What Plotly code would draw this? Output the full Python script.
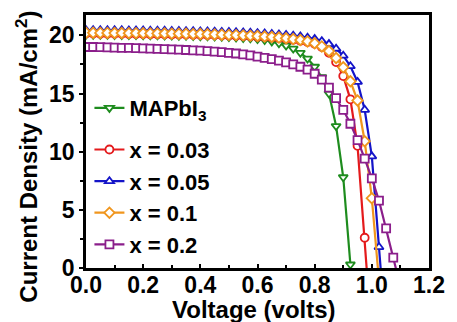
import plotly.graph_objects as go

VOLTAGE = [0.0, 0.025, 0.05, 0.075, 0.1, 0.125, 0.15, 0.175, 0.2, 0.225,
           0.25, 0.275, 0.3, 0.325, 0.35, 0.375, 0.4, 0.425, 0.45, 0.475,
           0.5, 0.525, 0.55, 0.575, 0.6, 0.625, 0.65, 0.675, 0.7, 0.725,
           0.75, 0.775, 0.8, 0.825, 0.85, 0.875, 0.9, 0.925, 0.95, 0.975,
           1.0, 1.025, 1.05, 1.075, 1.1]

J_MAPBI3 = [20.05, 20.05, 20.04, 20.04, 20.03, 20.03, 20.02, 20.02, 20.01, 20.0,
            20.0, 19.99, 19.98, 19.97, 19.96, 19.95, 19.93, 19.92, 19.9, 19.88,
            19.85, 19.82, 19.78, 19.74, 19.68, 19.6, 19.48, 19.32, 19.12, 18.86,
            18.5, 18.0, 17.3, 16.4, 15.0, 12.2, 7.8, 0.3, -7.0]
J_X003 = [20.15, 20.15, 20.14, 20.14, 20.13, 20.13, 20.12, 20.12, 20.11, 20.1,
          20.1, 20.09, 20.08, 20.07, 20.06, 20.05, 20.04, 20.03, 20.02, 20.0,
          19.98, 19.96, 19.94, 19.91, 19.88, 19.85, 19.81, 19.76, 19.7, 19.62,
          19.53, 19.42, 19.28, 19.0, 18.5, 17.7, 16.5, 14.5, 10.5, 2.6, -6.0]
J_X005 = [20.45, 20.45, 20.44, 20.44, 20.43, 20.43, 20.42, 20.42, 20.41, 20.4,
          20.4, 20.39, 20.38, 20.37, 20.36, 20.35, 20.34, 20.33, 20.32, 20.3,
          20.28, 20.26, 20.24, 20.22, 20.19, 20.16, 20.12, 20.08, 20.03, 19.97,
          19.9, 19.8, 19.68, 19.5, 19.25, 18.85, 18.25, 17.35, 16.0, 13.6,
          9.6, 1.8, -6.0]
J_X01 = [20.22, 20.22, 20.21, 20.21, 20.2, 20.2, 20.19, 20.19, 20.18, 20.17,
         20.17, 20.16, 20.15, 20.14, 20.13, 20.12, 20.11, 20.1, 20.08, 20.06,
         20.04, 20.02, 20.0, 19.97, 19.94, 19.9, 19.86, 19.81, 19.75, 19.68,
         19.6, 19.48, 19.32, 19.05, 18.65, 18.05, 17.25, 16.05, 14.4, 10.9,
         6.0, -1.1]
J_X02 = [19.0, 19.0, 18.98, 18.96, 18.95, 18.93, 18.92, 18.9, 18.88, 18.86,
         18.84, 18.82, 18.8, 18.77, 18.74, 18.71, 18.68, 18.64, 18.6, 18.56,
         18.5, 18.44, 18.37, 18.28, 18.18, 18.07, 17.95, 17.82, 17.67, 17.5,
         17.3, 17.05, 16.7, 16.2, 15.5, 14.6, 13.6, 12.4, 11.0, 9.4,
         7.7, 5.8, 3.4, 0.9, -1.6]

SERIES = [
    ("MAPbI<sub>3</sub>", J_MAPBI3, "#1E8C1E", "triangle-down", "g1"),
    ("x = 0.03", J_X003, "#E41A1C", "circle", "g2"),
    ("x = 0.05", J_X005, "#1414C8", "triangle-up", "g2"),
    ("x = 0.1", J_X01, "#F0961E", "diamond", "g2"),
    ("x = 0.2", J_X02, "#8B1E8B", "square", "g2"),
]

X_TICKS = [0.0, 0.2, 0.4, 0.6, 0.8, 1.0, 1.2]
Y_TICKS = [0, 5, 10, 15, 20]
X_TITLE = "Voltage (volts)"
Y_TITLE = "Current Density (mA/cm<sup>2</sup>)"

FONT = "Liberation Sans, Arial, sans-serif"
FS = 23

fig = go.Figure()
for name, vals, color, sym, grp in SERIES:
    fig.add_trace(go.Scatter(
        x=VOLTAGE[:len(vals)], y=vals, name=name, mode="lines+markers",
        legendgroup=grp,
        line=dict(color=color, width=2.2),
        marker=dict(symbol=sym, size=8, color="white",
                    line=dict(color=color, width=1.8)),
    ))

fig.update_layout(
    width=457, height=322,
    margin=dict(l=86, r=16, t=15, b=54),
    paper_bgcolor="white", plot_bgcolor="white",
    font=dict(family=FONT, size=FS, color="black", weight="bold"),
    showlegend=True,
    legend=dict(x=0.01, y=0.715, xanchor="left", yanchor="top",
                bgcolor="rgba(0,0,0,0)", itemwidth=30,
                font=dict(family=FONT, size=22, color="black", weight="bold"),
                tracegroupgap=10),
    annotations=[
        dict(text=X_TITLE, xref="paper", yref="paper", x=0.489, y=-0.163,
             xanchor="center", yanchor="middle", showarrow=False,
             font=dict(family=FONT, size=24, weight="bold", color="black")),
        dict(text=Y_TITLE, xref="paper", yref="paper", x=-0.172, y=0.44,
             xanchor="center", yanchor="middle", showarrow=False, textangle=-90,
             font=dict(family=FONT, size=24, weight="bold", color="black")),
    ],
)
fig.update_xaxes(
    range=[0, 1.2], tickvals=X_TICKS, ticktext=[f"{v:.1f}" for v in X_TICKS],
    showgrid=False, zeroline=False,
    showline=True, linecolor="black", linewidth=2.5, mirror=True,
    ticks="inside", ticklen=4, tickwidth=2, tickcolor="black",
    minor=dict(dtick=0.1, ticks="inside", ticklen=3, tickwidth=1.5, tickcolor="black"),
    tickfont=dict(family=FONT, size=FS, weight="bold"),
    ticklabelstandoff=-5,
)
fig.update_yaxes(
    range=[0, 21.75], tickvals=Y_TICKS,
    showgrid=False, zeroline=False,
    showline=True, linecolor="black", linewidth=2.5, mirror=True,
    ticks="outside", ticklen=4, tickwidth=2, tickcolor="black",
    minor=dict(dtick=2.5, ticks="outside", ticklen=3, tickwidth=1.5, tickcolor="black"),
    tickfont=dict(family=FONT, size=FS, weight="bold"),
)

fig.write_html("out.html", config={"displayModeBar": False},
               post_script="document.body.style.margin='0';document.body.style.overflow='hidden';")
